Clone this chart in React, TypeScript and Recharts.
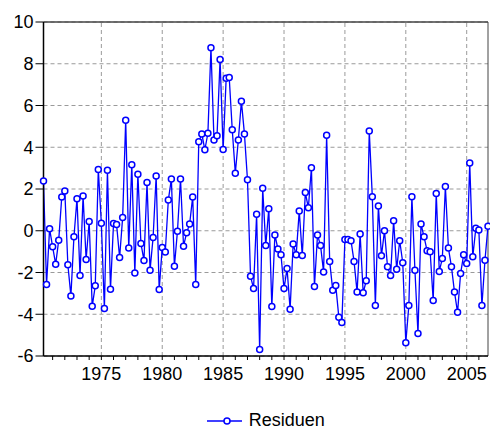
import React from "react";
import { LineChart, Line, XAxis, YAxis, CartesianGrid, ReferenceLine, Legend } from "recharts";

// quarterly residuals, first observation 1970Q2
const START_YEAR = 1970;
const START_QUARTER = 2;

const residuen = [
  2.38, -2.58, 0.09, -0.77, -1.6, -0.45, 1.62, 1.91, -1.63, -3.12,
  -0.29, 1.53, -2.14, 1.66, -1.38, 0.44, -3.62, -2.64, 2.93, 0.36,
  -3.72, 2.9, -2.8, 0.35, 0.3, -1.28, 0.64, 5.29, -0.83, 3.16,
  -2.02, 2.71, -0.61, -1.42, 2.31, -1.89, -0.32, 2.62, -2.82, -0.8,
  -1.02, 1.47, 2.48, -1.7, -0.02, 2.48, -0.74, -0.1, 0.32, 1.62,
  -2.58, 4.26, 4.64, 3.88, 4.67, 8.77, 4.35, 4.55, 8.2, 3.89,
  7.31, 7.34, 4.84, 2.76, 4.35, 6.2, 4.64, 2.44, -2.18, -2.77,
  0.79, -5.69, 2.03, -0.71, 1.05, -3.63, -0.2, -0.87, -1.15, -2.77,
  -1.81, -3.76, -0.64, -1.15, 0.95, -1.19, 1.83, 1.1, 3.02, -2.67,
  -0.2, -0.71, -1.98, 4.58, -1.47, -2.85, -2.62, -4.14, -4.4, -0.42,
  -0.42, -0.48, -1.47, -2.94, -0.16, -2.97, -2.4, 4.78, 1.63, -3.58,
  1.18, -1.2, 0.0, -1.73, -2.14, 0.48, -1.85, -0.48, -1.53, -5.36,
  -3.58, 1.63, -1.89, -4.92, 0.32, -0.29, -0.96, -1.01, -3.34, 1.79,
  -1.95, -1.33, 2.12, -0.83, -1.73, -2.94, -3.91, -2.05, -1.15, -1.57,
  3.24, -1.25, 0.12, 0.03, -3.58, -1.41, 0.22,
];

const yTicks = [-6, -4, -2, 0, 2, 4, 6, 8, 10];
const majorYears = [1975, 1980, 1985, 1990, 1995, 2000, 2005];
const minorYears = Array.from({ length: 36 }, (_, i) => 1971 + i);

const X_MIN = START_YEAR + (START_QUARTER - 1) / 4;
const X_MAX = X_MIN + (residuen.length - 1) / 4;

const data = residuen.map((v, i) => ({ t: X_MIN + i / 4, residuen: v }));

const FONT = '"Liberation Sans", Arial, Helvetica, sans-serif';
const BLUE = "#0000ff";
const GRID = "#9a9a9a";

const XTick = (props: any) => {
  const { x, y, payload } = props;
  if (payload.value % 5 !== 0) return <g />;
  return (
    <text x={x} y={y} dy="0.71em" textAnchor="middle" fill="#000" fontSize={18} fontFamily={FONT}>
      {payload.value}
    </text>
  );
};

const renderLegend = (props: any) => {
  const { payload } = props;
  return (
    <div style={{ height: 43, position: "relative", fontFamily: FONT, fontSize: 18, color: "#000" }}>
      <div
        style={{
          position: "absolute",
          top: 24,
          left: 0,
          right: 0,
          display: "flex",
          justifyContent: "center",
          alignItems: "center",
          lineHeight: "21px",
        }}
      >
        {(payload || []).map((entry: any) => (
          <React.Fragment key={entry.value}>
            <svg width={35} height={10} style={{ display: "block" }}>
              <line x1={0} y1={5} x2={35} y2={5} stroke={BLUE} strokeWidth={1.5} />
              <circle cx={20} cy={5} r={3} fill="#fff" stroke={BLUE} strokeWidth={1.5} />
            </svg>
            <span style={{ marginLeft: 7 }}>{entry.value}</span>
          </React.Fragment>
        ))}
      </div>
    </div>
  );
};

export default function App() {
  return (
    <div style={{ position: "absolute", left: 0, top: 0, width: 490, height: 429, background: "#fff" }}>
      <LineChart width={490} height={429} data={data} margin={{ top: 22, right: 2, bottom: 0, left: 0 }}>
        <CartesianGrid vertical={false} stroke={GRID} strokeDasharray="4 3" />
        {majorYears.map((yr) => (
          <ReferenceLine key={yr} x={yr} stroke={GRID} strokeDasharray="4 3" />
        ))}
        <ReferenceLine y={10} stroke="#444" strokeWidth={1.5} />
        <ReferenceLine x={X_MAX} stroke="#444" strokeWidth={1} />
        <XAxis
          dataKey="t"
          type="number"
          domain={[X_MIN, X_MAX]}
          ticks={minorYears}
          interval={0}
          tick={<XTick />}
          tickSize={4}
          tickMargin={7}
          height={30}
          axisLine={{ stroke: "#000", strokeWidth: 1.5 }}
          tickLine={{ stroke: "#000" }}
        />
        <YAxis
          type="number"
          domain={[-6, 10]}
          ticks={yTicks}
          interval={0}
          width={43.5}
          tickSize={8}
          tickMargin={2}
          tick={{ fill: "#000", fontSize: 18, fontFamily: FONT }}
          axisLine={{ stroke: "#000", strokeWidth: 1.5 }}
          tickLine={{ stroke: "#000" }}
        />
        <Legend
          verticalAlign="bottom"
          content={renderLegend}
          wrapperStyle={{ left: 43.5, width: 444.5, height: 43 }}
        />
        <Line
          type="linear"
          dataKey="residuen"
          name="Residuen"
          stroke={BLUE}
          strokeWidth={1.3}
          dot={{ r: 3, fill: "#fff", stroke: BLUE, strokeWidth: 1.5 }}
          activeDot={false}
          isAnimationActive={false}
        />
      </LineChart>
    </div>
  );
}
